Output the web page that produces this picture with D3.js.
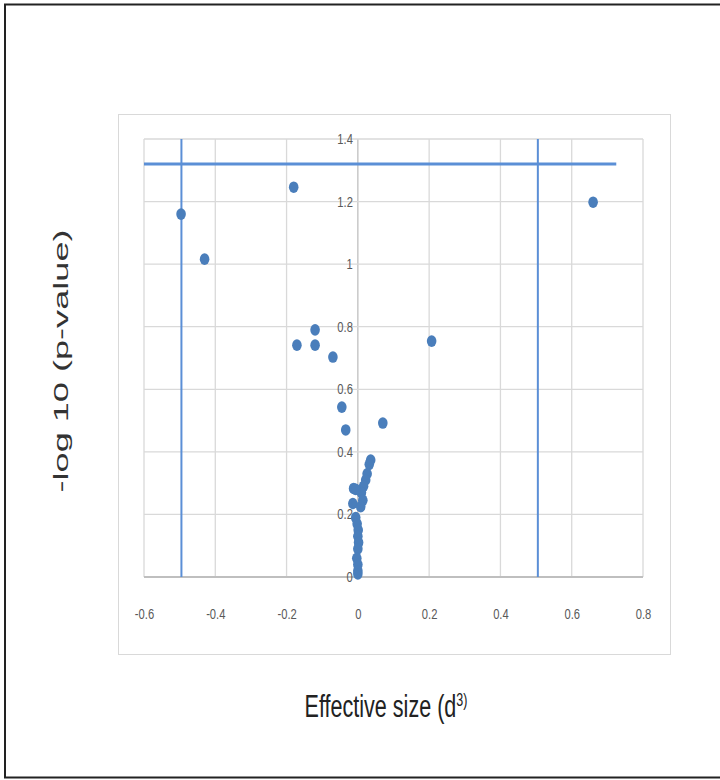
<!DOCTYPE html>
<html>
<head>
<meta charset="utf-8">
<script src="https://cdn.jsdelivr.net/npm/d3@7"></script>
<style>
  body { margin: 0; background: #fff; }
  .tick text { font-family: "Liberation Sans", Arial, sans-serif; fill: #595959; font-size: 14px; }
</style>
</head>
<body>
<svg width="720" height="780"></svg>
<script>
const width = 720;
const height = 780;

// effect size (x) and -log10 p (y)
const effectSize = [-0.496, -0.43, -0.18, 0.66, 0.207, -0.171, -0.12, -0.12, -0.07, -0.045, -0.034, 0.07,
    0.036, 0.032, 0.026, 0.022, 0.016, 0.01, -0.012, -0.006, -0.014, 0.014, 0.008, -0.006,
    -0.002, 0.001, 0.0, 0.002, 0.0, -0.003, 0.0, 0.0, 0.0];
const logP = [1.16, 1.016, 1.246, 1.198, 0.754, 0.741, 0.79, 0.741, 0.703, 0.543, 0.47, 0.492,
    0.374, 0.36, 0.33, 0.31, 0.29, 0.27, 0.283, 0.28, 0.235, 0.245, 0.225, 0.19,
    0.17, 0.15, 0.13, 0.11, 0.09, 0.06, 0.04, 0.02, 0.01];

const xTicks = [-0.6, -0.4, -0.2, 0, 0.2, 0.4, 0.6, 0.8];
const yTicks = [0, 0.2, 0.4, 0.6, 0.8, 1, 1.2, 1.4];

// threshold lines
const cutX = [-0.495, 0.505];
const cutY = 1.32;
const cutYEnd = 0.725;

const svg = d3.select('svg');

// outer frame (no right side)
svg.append('path')
    .attr('d', 'M720,4.5 H5 V777.5 H720')
    .attr('fill', 'none')
    .attr('stroke', '#222')
    .attr('stroke-width', 2);

// chart area box
svg.append('rect')
    .attr('x', 118.5).attr('y', 114.5)
    .attr('width', 552).attr('height', 540)
    .attr('fill', '#fff')
    .attr('stroke', '#d9d9d9');

const xScale = d3.scaleLinear().domain([-0.6, 0.8]).range([144, 643]);
const yScale = d3.scaleLinear().domain([0, 1.4]).range([577, 139]);

// grid
svg.append('g')
    .selectAll('line').data(xTicks).enter().append('line')
    .attr('x1', d => xScale(d)).attr('x2', d => xScale(d))
    .attr('y1', yScale(1.4)).attr('y2', yScale(0))
    .attr('stroke', d => d === 0 ? '#bfbfbf' : '#d9d9d9')
    .attr('stroke-width', 1.3);

svg.append('g')
    .selectAll('line').data(yTicks).enter().append('line')
    .attr('x1', xScale(-0.6)).attr('x2', xScale(0.8))
    .attr('y1', d => yScale(d)).attr('y2', d => yScale(d))
    .attr('stroke', d => d === 0 ? '#bfbfbf' : '#d9d9d9')
    .attr('stroke-width', d => d === 0 ? 2 : 1.3);

// axes (labels only), hyphen minus like the original
const fmt = d => String(d);

const xAxisG = svg.append('g')
    .attr('transform', 'translate(0,' + 606 + ')')
    .call(d3.axisBottom(xScale).tickValues(xTicks).tickSize(0).tickFormat(fmt));
xAxisG.select('.domain').remove();

const yAxisG = svg.append('g')
    .attr('transform', 'translate(' + (xScale(0) - 2) + ',0)')
    .call(d3.axisLeft(yScale).tickValues(yTicks).tickSize(0).tickFormat(fmt));
yAxisG.select('.domain').remove();

// condensed look for the tick labels
svg.selectAll('.tick text').each(function() {
    const w = this.getComputedTextLength();
    d3.select(this)
        .attr('textLength', w * 0.8)
        .attr('lengthAdjust', 'spacingAndGlyphs');
});

// threshold lines
const blue = '#5b8fd6';
svg.selectAll('.cutx').data(cutX).enter().append('line')
    .attr('class', 'cutx')
    .attr('x1', d => xScale(d)).attr('x2', d => xScale(d))
    .attr('y1', yScale(1.4)).attr('y2', yScale(0))
    .attr('stroke', blue)
    .attr('stroke-width', 2);

svg.append('line')
    .attr('x1', xScale(-0.6)).attr('x2', xScale(cutYEnd))
    .attr('y1', yScale(cutY)).attr('y2', yScale(cutY))
    .attr('stroke', blue)
    .attr('stroke-width', 3);

// points
const data = effectSize.map((d, i) => ({ x: d, y: logP[i] }));
svg.append('g')
    .selectAll('ellipse').data(data).enter().append('ellipse')
    .attr('cx', d => xScale(d.x))
    .attr('cy', d => yScale(d.y))
    .attr('rx', 4.8)
    .attr('ry', 5.8)
    .attr('fill', '#4a7ebb');

// titles
const xTitle = svg.append('text')
    .attr('text-anchor', 'middle')
    .attr('font-family', '"Liberation Sans", Arial, sans-serif')
    .attr('font-size', 31)
    .attr('fill', '#222');
xTitle.append('tspan').text('Effective size (d');
xTitle.append('tspan').attr('font-size', 18).attr('dy', -11).text('3)');
const xw = xTitle.node().getBBox().width;
xTitle.attr('transform', 'translate(386,717) scale(' + (163 / xw) + ',1)');

svg.append('text')
    .attr('transform', 'translate(68,361) rotate(-90)')
    .attr('text-anchor', 'middle')
    .attr('font-family', '"Liberation Sans", Arial, sans-serif')
    .attr('font-size', 20)
    .attr('fill', '#333')
    .attr('textLength', 263)
    .attr('lengthAdjust', 'spacingAndGlyphs')
    .text('-log 10 (p-value)');
</script>
</body>
</html>
